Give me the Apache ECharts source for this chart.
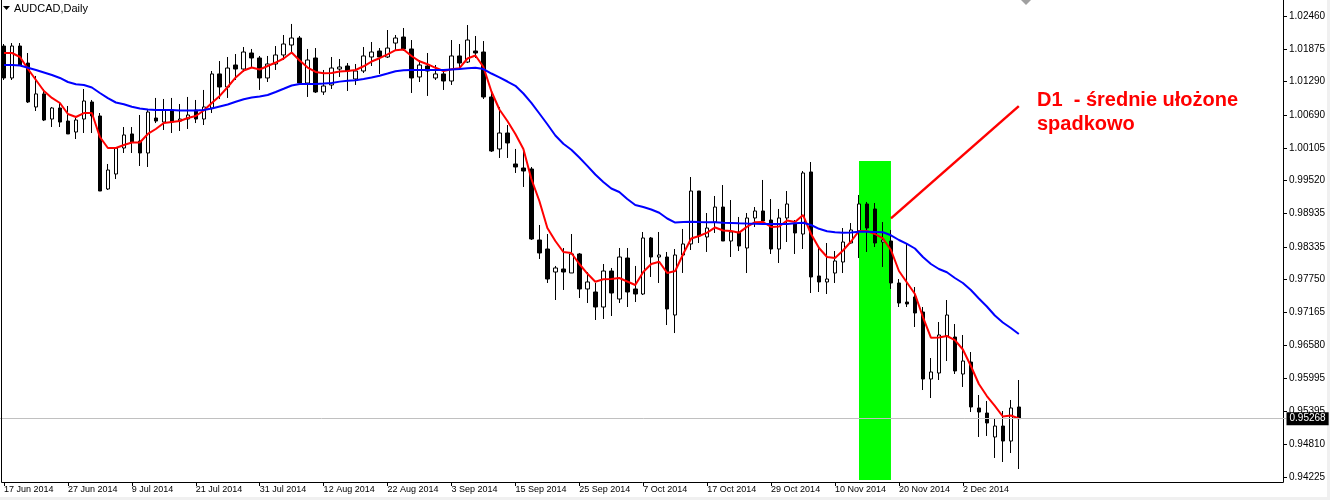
<!DOCTYPE html>
<html><head><meta charset="utf-8">
<script src="https://cdn.jsdelivr.net/npm/echarts@6/dist/echarts.min.js"></script>
<style>html,body{margin:0;padding:0;background:#fff}#c{width:1330px;height:500px}</style>
</head><body><div id="c"></div><script>
// ---- data (AUDCAD daily) ----
const symbolTitle = 'AUDCAD,Daily';
const startDate = [2014, 5, 17]; // 17 Jun 2014, weekdays only
const barCount = 128;
const monthNames = ['Jan','Feb','Mar','Apr','May','Jun','Jul','Aug','Sep','Oct','Nov','Dec'];

const open = [
1.01924,1.01353,1.01924,1.01620,1.00835,1.01068,1.00620,1.00817,1.00584,1.00388,
1.00620,1.00924,1.00674,0.99370,0.99638,1.00102,1.00353,1.00227,1.00013,1.00638,
1.00566,1.00781,1.00584,1.00620,1.00781,1.00620,1.00817,1.01425,1.01192,1.01585,
1.01513,1.01799,1.01710,1.01353,1.01603,1.01764,1.01942,1.02067,1.01263,1.01710,
1.01103,1.01228,1.01513,1.01567,1.01335,1.01478,1.01728,1.01835,1.01728,1.01977,
1.02085,1.01871,1.01371,1.01567,1.01353,1.01425,1.01299,1.01746,1.01638,1.01835,
1.01817,1.01014,1.00085,1.00370,0.99817,0.99745,0.99727,0.98459,0.98298,0.97887,
0.97941,0.97870,0.98209,0.97584,0.97530,0.97262,0.97905,0.97405,0.98137,0.97584,
0.97494,0.98495,0.98155,0.98155,0.97119,0.98191,0.98388,0.99334,0.98513,0.98780,
0.99048,0.98441,0.98602,0.98316,0.98852,0.98977,0.98816,0.98298,0.98852,0.98745,
0.98566,0.99674,0.97816,0.97709,0.97869,0.98066,0.98405,0.98620,0.99102,0.99013,
0.98423,0.98441,0.97691,0.97351,0.97441,0.97173,0.95976,0.96083,0.96744,0.96726,
0.96065,0.96279,0.95458,0.95368,0.94940,0.95136,0.94868,0.95476];
const close = [
1.01353,1.01924,1.01585,1.00924,1.01068,1.00602,1.00817,1.00566,1.00353,1.00602,
1.00942,1.00674,0.99334,0.99709,1.00102,1.00335,1.00209,1.00013,1.00745,1.00584,
1.00781,1.00566,1.00620,1.00692,1.00620,1.00835,1.01425,1.01192,1.01531,1.01513,
1.01817,1.01710,1.01353,1.01603,1.01764,1.01960,1.02067,1.01263,1.01674,1.01103,
1.01210,1.01531,1.01549,1.01478,1.01478,1.01746,1.01817,1.01728,1.01888,1.02067,
1.01871,1.01353,1.01585,1.01478,1.01425,1.01299,1.01746,1.01620,1.02031,1.01799,
1.01014,1.00049,1.00370,1.00192,0.99763,0.99691,0.98477,0.98227,0.97762,0.97959,
0.97887,0.98209,0.97584,0.97709,0.97262,0.97905,0.97512,0.98155,0.97530,0.97494,
0.98495,0.98155,0.98191,0.97226,0.98191,0.98388,0.99334,0.98531,0.98673,0.99048,
0.98441,0.98602,0.98352,0.98852,0.98977,0.98798,0.98298,0.98852,0.99102,0.98584,
0.99656,0.97798,0.97709,0.97762,0.98084,0.98423,0.98638,0.99102,0.98673,0.98405,
0.98459,0.97691,0.97333,0.97316,0.97155,0.95976,0.96101,0.96762,0.97119,0.96119,
0.96297,0.95476,0.95386,0.95190,0.95136,0.94868,0.95458,0.95268];
const low = [
1.01317,1.01317,1.01567,1.00906,1.00763,1.00584,1.00477,1.00477,1.00353,1.00263,
1.00370,1.00370,0.99334,0.99352,0.99548,1.00013,1.00013,0.99781,0.99763,1.00548,
1.00424,1.00370,1.00406,1.00442,1.00548,1.00513,1.00727,1.00978,1.00996,1.01317,
1.01460,1.01531,1.01139,1.01281,1.01496,1.01674,1.01799,1.01228,1.01014,1.01085,
1.01050,1.01156,1.01371,1.01121,1.01228,1.01442,1.01567,1.01425,1.01710,1.01853,
1.01835,1.01085,1.01281,1.01032,1.01317,1.01139,1.01228,1.01531,1.01620,1.01710,
1.00978,1.00031,0.99924,0.99924,0.99656,0.99406,0.98459,0.98120,0.97691,0.97387,
0.97566,0.97870,0.97423,0.97333,0.97030,0.97048,0.97101,0.97333,0.97262,0.97351,
0.97476,0.97798,0.97691,0.96940,0.96797,0.97870,0.98280,0.98405,0.98245,0.98584,
0.98441,0.98155,0.98262,0.97869,0.98691,0.98798,0.98209,0.98048,0.98423,0.98209,
0.98298,0.97512,0.97530,0.97494,0.97691,0.97869,0.98388,0.98137,0.98245,0.98334,
0.97977,0.97584,0.97262,0.97262,0.96905,0.95779,0.95636,0.95958,0.96297,0.96065,
0.95833,0.95386,0.94940,0.94958,0.94565,0.94493,0.94654,0.94368];
const high = [
1.01960,1.01977,1.01977,1.01799,1.01389,1.01156,1.00835,1.00906,1.00853,1.00638,
1.01156,1.00960,1.00727,0.99817,1.00120,1.00477,1.00477,1.00692,1.00799,1.00996,
1.00978,1.00996,1.00888,1.01014,1.00960,1.01139,1.01478,1.01656,1.01728,1.01781,
1.01906,1.01871,1.01746,1.01746,1.01924,1.02121,1.02318,1.02103,1.01871,1.01888,
1.01496,1.01728,1.01692,1.01620,1.01603,1.01906,1.01996,1.01888,1.02210,1.02121,
1.02246,1.02031,1.01674,1.01799,1.01585,1.01496,1.02031,1.01960,1.02299,1.02103,
1.02013,1.01103,1.00835,1.00513,1.00085,1.00102,0.99763,0.98727,0.98566,0.97995,
0.98316,0.98566,0.98227,0.97887,0.97691,0.98030,0.97959,0.98316,0.98316,0.97995,
0.98602,0.98513,0.98602,0.98245,0.98298,0.98656,0.99584,0.99334,0.98941,0.99245,
0.99441,0.99173,0.98870,0.98941,0.99048,0.99531,0.99191,0.99013,0.99334,0.98816,
0.99691,0.99852,0.98334,0.98405,0.98262,0.98673,0.98762,0.99263,0.99138,0.99120,
0.98780,0.98638,0.97762,0.98388,0.97619,0.97262,0.96351,0.96994,0.97387,0.96958,
0.96762,0.96458,0.95690,0.95583,0.95279,0.95404,0.95601,0.95958];

// fast (red) and slow (blue) moving averages
const maFast = [
1.01799,1.01799,1.01728,1.01513,1.01317,1.01121,1.00996,1.00906,1.00710,1.00656,
1.00727,1.00727,1.00299,1.00102,1.00102,1.00156,1.00201,1.00201,1.00353,1.00442,
1.00548,1.00566,1.00584,1.00638,1.00674,1.00772,1.00906,1.01032,1.01192,1.01362,
1.01487,1.01540,1.01505,1.01567,1.01629,1.01701,1.01808,1.01665,1.01540,1.01460,
1.01437,1.01442,1.01469,1.01478,1.01496,1.01562,1.01647,1.01706,1.01776,1.01849,
1.01862,1.01746,1.01651,1.01599,1.01535,1.01478,1.01508,1.01528,1.01701,1.01755,
1.01549,1.01112,1.00790,1.00584,1.00353,1.00085,0.99549,0.99155,0.98673,0.98441,
0.98245,0.98227,0.98030,0.97860,0.97714,0.97757,0.97762,0.97780,0.97718,0.97655,
0.97887,0.98030,0.98071,0.97869,0.97905,0.98209,0.98486,0.98531,0.98590,0.98683,
0.98629,0.98620,0.98590,0.98697,0.98776,0.98780,0.98691,0.98700,0.98807,0.98780,
0.98905,0.98566,0.98316,0.98155,0.98137,0.98271,0.98432,0.98620,0.98620,0.98566,
0.98486,0.98280,0.97905,0.97700,0.97494,0.97083,0.96714,0.96717,0.96744,0.96672,
0.96503,0.96208,0.95887,0.95672,0.95494,0.95306,0.95324,0.95270];
const maSlow = [
1.01585,1.01585,1.01576,1.01537,1.01496,1.01451,1.01406,1.01353,1.01281,1.01242,
1.01228,1.01183,1.01085,1.00992,1.00915,1.00885,1.00838,1.00808,1.00790,1.00781,
1.00781,1.00781,1.00772,1.00772,1.00772,1.00781,1.00808,1.00844,1.00879,1.00928,
1.00974,1.01004,1.01024,1.01050,1.01103,1.01160,1.01219,1.01246,1.01246,1.01246,
1.01253,1.01263,1.01288,1.01303,1.01313,1.01335,1.01360,1.01394,1.01433,1.01474,
1.01489,1.01496,1.01496,1.01496,1.01496,1.01496,1.01505,1.01513,1.01528,1.01535,
1.01513,1.01433,1.01365,1.01290,1.01213,1.01076,1.00910,1.00719,1.00526,1.00326,
1.00177,1.00070,0.99933,0.99784,0.99629,0.99495,0.99379,0.99316,0.99191,0.99084,
0.99048,0.99004,0.98945,0.98843,0.98771,0.98780,0.98786,0.98780,0.98777,0.98775,
0.98768,0.98763,0.98757,0.98752,0.98748,0.98745,0.98745,0.98745,0.98745,0.98759,
0.98768,0.98727,0.98659,0.98616,0.98597,0.98590,0.98593,0.98607,0.98607,0.98602,
0.98597,0.98543,0.98459,0.98388,0.98307,0.98155,0.98030,0.97941,0.97882,0.97780,
0.97691,0.97566,0.97414,0.97271,0.97110,0.96985,0.96887,0.96780];

const yTicks = [1.02460,1.01875,1.01290,1.00690,1.00105,0.99520,0.98935,0.98335,0.97750,0.97165,0.96580,0.95995,0.95395,0.94810,0.94225];
const lastPrice = 0.95268;
// annotations
const boxBars = [107, 111];            // green rectangle, bar indices
const boxPrices = [0.99870, 0.94172];  // top / bottom price
const trendBars = [111, 127];
const trendPrices = [0.98846, 1.00851];
const noteLines = ['D1  - średnie ułożone', 'spadkowo'];

// ---- build ----
const dates = [];
{
  const d = new Date(Date.UTC(startDate[0], startDate[1], startDate[2]));
  while (dates.length < barCount) {
    const wd = d.getUTCDay();
    if (wd !== 0 && wd !== 6) dates.push(d.getUTCDate() + ' ' + monthNames[d.getUTCMonth()] + ' ' + d.getUTCFullYear());
    d.setUTCDate(d.getUTCDate() + 1);
  }
}
const SLOTS = 161;
const cats = dates.concat(Array.from({length: SLOTS - dates.length}, (_, k) => '_pad' + k));
const showIdx = (i) => i % 8 === 0 && i < dates.length;

const chart = echarts.init(document.getElementById('c'), null, {renderer: 'canvas'});
const F = 'Liberation Sans, Arial, sans-serif';
chart.setOption({
  animation: false,
  backgroundColor: '#ffffff',
  grid: {left: -1.5, top: 0, width: SLOTS * 8, height: 482, containLabel: false},
  xAxis: {
    type: 'category', data: cats, boundaryGap: true,
    axisLine: {show: false},
    axisTick: {show: true, alignWithLabel: true, interval: showIdx, length: 4, lineStyle: {color: '#000'}},
    axisLabel: {interval: showIdx, align: 'left', margin: 3, fontSize: 9, fontFamily: F, color: '#000'},
    splitLine: {show: false}
  },
  yAxis: {
    type: 'value', position: 'right', offset: -3.5, min: 0.94136, max: 1.02746, scale: true,
    axisLine: {show: true, lineStyle: {color: '#000'}},
    axisTick: {show: true, customValues: yTicks, length: 4, lineStyle: {color: '#000'}},
    axisLabel: {customValues: yTicks, formatter: (v) => v.toFixed(5), margin: 6, fontSize: 10, fontFamily: F, color: '#000'},
    splitLine: {show: false}
  },
  series: [
    {
      type: 'candlestick', name: 'AUDCAD',
      data: open.map((o, i) => [o, close[i], low[i], high[i]]),
      barWidth: 4, z: 2,
      itemStyle: {color: '#ffffff', color0: '#000000', borderColor: '#000000', borderColor0: '#000000', borderWidth: 1},
      markArea: {
        silent: true, z: 1,
        itemStyle: {color: '#00ff00', opacity: 1},
        data: [[{xAxis: cats[boxBars[0]], yAxis: boxPrices[0]}, {xAxis: cats[boxBars[1]], yAxis: boxPrices[1]}]]
      },
      markLine: {
        silent: true, symbol: ['none', 'none'], animation: false, precision: 5,
        data: [
          {yAxis: lastPrice, lineStyle: {color: '#c0c0c0', width: 1, type: 'solid'},
           label: {show: true, position: 'end', distance: 0, formatter: () => lastPrice.toFixed(5),
                   backgroundColor: '#000', color: '#fff', padding: [2, 3, 1, 3], fontSize: 10, fontFamily: F}},
          [{coord: [cats[trendBars[0]], trendPrices[0]], lineStyle: {color: '#ff0000', width: 2.5, type: 'solid'}, label: {show: false}},
           {coord: [cats[trendBars[1]], trendPrices[1]]}]
        ]
      }
    },
    {type: 'line', name: 'MA fast', data: maFast, symbol: 'none', z: 3, silent: true,
     lineStyle: {color: '#ff0000', width: 2}},
    {type: 'line', name: 'MA slow', data: maSlow, symbol: 'none', z: 3, silent: true,
     lineStyle: {color: '#0000ff', width: 2}}
  ],
  graphic: [
    {type: 'rect', shape: {x: 1327, y: 0, width: 3, height: 500}, style: {fill: '#f0f0f0'}, silent: true, z: 0},
    {type: 'rect', shape: {x: 0, y: 497, width: 1330, height: 3}, style: {fill: '#f0f0f0'}, silent: true, z: 0},
    {type: 'line', shape: {x1: 1.5, y1: 0, x2: 1.5, y2: 482.5}, style: {stroke: '#000', lineWidth: 1}, silent: true, z: 10},
    {type: 'line', shape: {x1: 1.5, y1: 482.5, x2: 1283.5, y2: 482.5}, style: {stroke: '#000', lineWidth: 1}, silent: true, z: 10},
    {type: 'polygon', shape: {points: [[3, 6], [10, 6], [6.5, 10]]}, style: {fill: '#000'}, silent: true, z: 10},
    {type: 'text', x: 14, y: 8.5, style: {text: symbolTitle, fill: '#000', font: '11px ' + F, verticalAlign: 'middle'}, silent: true, z: 10},
    {type: 'polygon', shape: {points: [[1021, 0], [1031, 0], [1026, 5]]}, style: {fill: '#a0a0a0'}, silent: true, z: 10},
    {type: 'text', x: 1037, y: 100, style: {text: noteLines[0], fill: '#ff0000', font: 'bold 20px ' + F, verticalAlign: 'middle'}, silent: true, z: 10},
    {type: 'text', x: 1037, y: 124, style: {text: noteLines[1], fill: '#ff0000', font: 'bold 20px ' + F, verticalAlign: 'middle'}, silent: true, z: 10}
  ]
});
</script></body></html>
